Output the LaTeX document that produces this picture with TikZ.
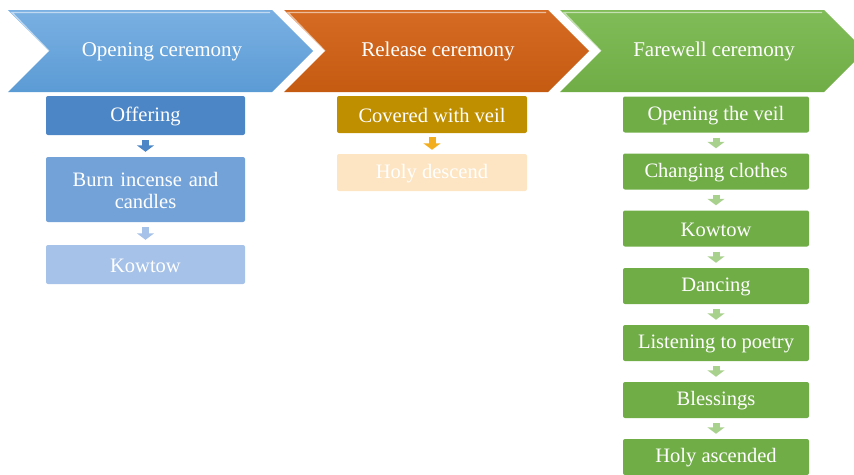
\documentclass[tikz,border=0pt]{standalone}
\usepackage{fontspec}
\setmainfont{Liberation Serif}
\usetikzlibrary{arrows.meta}
\definecolor{hblue}{HTML}{5B9BD5}
\definecolor{hbluet}{HTML}{7AB0E2}
\definecolor{horange}{HTML}{C55A11}
\definecolor{horanget}{HTML}{D66C24}
\definecolor{hgreen}{HTML}{70AD47}
\definecolor{hgreent}{HTML}{80BC57}
\definecolor{bA}{HTML}{4D86C6}
\definecolor{bB}{HTML}{73A2D9}
\definecolor{bC}{HTML}{A6C2E8}
\definecolor{oA}{HTML}{BF8F00}
\definecolor{oArr}{HTML}{F2AE1E}
\definecolor{oB}{HTML}{FDE5C3}
\definecolor{gA}{HTML}{70AD47}
\definecolor{gArr}{HTML}{A9D18E}
\tikzset{
  hdr/.style={text=white,font=\fontsize{21}{22}\selectfont},
  box/.style={rectangle,rounded corners=2pt,text=white,align=center,
    font=\fontsize{20.5}{22}\selectfont,inner sep=0pt},
  bluebox/.style={box,minimum width=199pt,minimum height=39pt},
  orbox/.style={box,minimum width=190pt,minimum height=37pt},
  grbox/.style={box,minimum width=186pt,minimum height=36pt,fill=gA},
  lbl/.style={text=white,font=\fontsize{20.5}{22}\selectfont,align=center},
  flow/.style={line width=7pt,-{Triangle[width=17pt,length=6.5pt]},shorten <=5pt,shorten >=5pt}
}
\begin{document}
\begin{tikzpicture}[x=1pt,y=-1pt]
\useasboundingbox (0,0) rectangle (854,474);
\begin{scope}
\clip (0,0) rectangle (854,474);
% chevrons
\foreach \dx/\ct/\cb in {0/hbluet/hblue,276/horanget/horange,552/hgreent/hgreen}{
  \shade[top color=\ct,bottom color=\cb]
    ({8+\dx},10) -- ({272+\dx},10) -- ({313+\dx},51) -- ({272+\dx},92) -- ({8+\dx},92) -- ({49+\dx},51) -- cycle;
  \draw[white,opacity=0.55,line width=1.2pt]
    ({49+\dx},51) -- ({12+\dx},12.5) -- ({270+\dx},12.5);
}
\end{scope}
\node[hdr] (h1) at (162,51.5) {Opening ceremony};
\node[hdr] (h2) at (438,51.5) {Release ceremony};
\node[hdr] (h3) at (714,51.5) {Farewell ceremony};
% blue column
\node[bluebox,fill=bA] (o1) at (145.5,115.5) {};
\node[bluebox,fill=bB,minimum height=65pt] (o2) at (145.5,189.5) {};
\node[bluebox,fill=bC] (o3) at (145.5,264.5) {};
\node[lbl] (t1) at ([yshift=-1pt]o1.center) {Offering};
\node[lbl,text width=150pt] (t2) at ([yshift=-1pt]o2.center) {Burn incense and\\candles};
\node[lbl] (t3) at ([yshift=-1pt]o3.center) {Kowtow};
\draw[flow,bA] (o1) -- (o2);
\draw[flow,bC] (o2) -- (o3);
% orange column
\node[orbox,fill=oA] (r1) at (432,114.5) {};
\node[orbox,fill=oB] (r2) at (432,172.5) {};
\node[lbl] (t4) at ([yshift=-1pt]r1.center) {Covered with veil};
\node[lbl] (t5) at ([yshift=-1pt]r2.center) {Holy descend};
\draw[flow,oArr,shorten <=4pt,shorten >=4pt] (r1) -- (r2);
% green column
\node[grbox] (f1) at (716,114.5) {};
\node[grbox] (f2) at (716,171.5) {};
\node[grbox] (f3) at (716,228.5) {};
\node[grbox] (f4) at (716,286) {};
\node[grbox] (f5) at (716,343) {};
\node[grbox] (f6) at (716,400) {};
\node[grbox] (f7) at (716,457) {};
\foreach \n/\t in {f1/Opening the veil,f2/Changing clothes,f3/Kowtow,f4/Dancing,f5/Listening to poetry,f6/Blessings,f7/Holy ascended}{
  \node[lbl] (l\n) at ([yshift=-1pt]\n.center) {\t};
}
\foreach \a/\b in {f1/f2,f2/f3,f3/f4,f4/f5,f5/f6,f6/f7}{
  \draw[flow,gArr] (\a) -- (\b);
}
\end{tikzpicture}
\end{document}
